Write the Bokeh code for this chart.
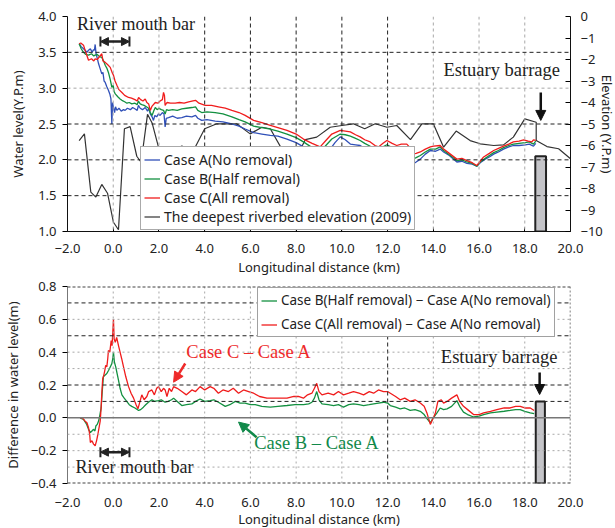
import math
from bokeh.plotting import figure
from bokeh.models import (Range1d, LinearAxis, FixedTicker, CustomJSTickFormatter, Span, Legend,
                          LegendItem, Label, Arrow, NormalHead, TeeHead)
from bokeh.layouts import column
from bokeh.embed import file_html
from bokeh.resources import INLINE

# ---------------- data ----------------
x_ticks = [-2, 0, 2, 4, 6, 8, 10, 12, 14, 16, 18, 20]
wl_ticks = [1.0, 1.5, 2.0, 2.5, 3.0, 3.5, 4.0]
elev_ticks = [0, -1, -2, -3, -4, -5, -6, -7, -8, -9, -10]
diff_ticks = [-0.4, -0.2, 0.0, 0.2, 0.4, 0.6, 0.8]

caseA_x = [-1.49, -1.40, -1.30, -1.23, -1.15, -1.08, -1.00, -0.92, -0.86, -0.82, -0.79, -0.75, -0.70, -0.64,
           -0.58, -0.50, -0.45, -0.40, -0.35, -0.28, -0.21, -0.15, -0.10, -0.06, -0.03, 0.01, 0.06, 0.10, 0.16,
           0.25, 0.35, 0.45, 0.52, 0.62, 0.75, 0.85, 0.96, 1.05, 1.10, 1.18, 1.28, 1.40, 1.50, 1.56, 1.62, 1.70,
           1.76, 1.82, 1.90, 1.98, 2.05, 2.15, 2.22, 2.27, 2.32, 2.42, 2.60, 2.80, 3.00, 3.20, 3.44, 3.60, 3.70,
           3.87, 4.10, 4.46, 4.80, 5.19, 5.50, 5.77, 6.14, 6.50, 6.87, 7.20, 7.60, 8.00, 8.32, 8.60, 8.90, 9.05,
           9.30, 9.49, 9.70, 9.93, 10.15, 10.37, 10.60, 10.80, 11.00, 11.24, 11.45, 11.60, 11.80, 11.97, 12.20,
           12.40, 12.60, 12.84, 12.95, 13.10, 13.25, 13.43, 13.65, 13.87, 14.10, 14.30, 14.45, 14.70, 15.03,
           15.25, 15.47, 15.70, 15.90, 16.05, 16.27, 16.45, 16.64, 16.85, 17.07, 17.30, 17.50, 17.75, 18.02,
           18.20, 18.38, 18.48]
caseA_y = [3.62, 3.58, 3.55, 3.53, 3.50, 3.53, 3.55, 3.50, 3.54, 3.53, 3.61, 3.48, 3.42, 3.34,
           3.28, 3.20, 3.22, 3.10, 3.08, 3.02, 2.97, 2.92, 2.85, 2.50, 2.80, 2.73, 2.66, 2.74, 2.69,
           2.72, 2.68, 2.70, 2.69, 2.72, 2.70, 2.73, 2.71, 2.69, 2.76, 2.72, 2.70, 2.73, 2.68, 2.72, 2.64, 2.60,
           2.55, 2.62, 2.60, 2.64, 2.62, 2.66, 2.64, 2.46, 2.58, 2.59, 2.61, 2.58, 2.59, 2.61, 2.60, 2.62, 2.58,
           2.55, 2.56, 2.54, 2.53, 2.50, 2.47, 2.43, 2.38, 2.36, 2.34, 2.33, 2.29, 2.24, 2.18, 2.08, 1.99, 2.01,
           2.08, 2.15, 2.24, 2.32, 2.28, 2.22, 2.21, 2.20, 2.16, 2.11, 2.08, 2.06, 2.10, 2.13, 2.10,
           2.08, 2.10, 2.13, 2.10, 1.94, 1.97, 2.01, 2.08, 2.13, 2.12, 2.15, 2.11, 2.06, 1.97,
           1.98, 1.95, 1.94, 1.91, 1.96, 2.01, 2.04, 2.08, 2.11, 2.15, 2.18, 2.20, 2.20, 2.21,
           2.22, 2.19, 2.23]

caseB_x = [-1.49, -1.40, -1.30, -1.20, -1.08, -0.95, -0.85, -0.79, -0.70, -0.60, -0.50, -0.42, -0.35, -0.28,
           -0.21, -0.13, -0.06, 0.00, 0.04, 0.09, 0.20, 0.30, 0.38, 0.50, 0.60, 0.70, 0.81, 0.95, 1.05, 1.10,
           1.18, 1.25, 1.35, 1.45, 1.55, 1.62, 1.70, 1.77, 1.84, 1.92, 2.00, 2.10, 2.20, 2.27, 2.33, 2.42, 2.60,
           2.80, 3.00, 3.20, 3.44, 3.60, 3.70, 3.87, 4.10, 4.46, 4.80, 5.19, 5.50, 5.77, 6.14, 6.50, 6.87, 7.20,
           7.60, 8.00, 8.32, 8.70, 9.05, 9.30, 9.56, 9.93, 10.15, 10.37, 10.60, 10.80, 11.00, 11.24, 11.45,
           11.60, 11.80, 11.97, 12.20, 12.40, 12.60, 12.84, 12.95, 13.10, 13.25, 13.43, 13.65, 13.87, 14.10,
           14.30, 14.45, 14.70, 15.03, 15.25, 15.47, 15.70, 15.90, 16.05, 16.27, 16.45, 16.64, 16.85, 17.07,
           17.30, 17.50, 17.75, 18.02, 18.20, 18.38, 18.48]
caseB_y = [3.62, 3.55, 3.50, 3.47, 3.46, 3.48, 3.45, 3.46, 3.47, 3.44, 3.43, 3.38, 3.32, 3.28,
           3.22, 3.12, 3.01, 3.04, 2.95, 2.92, 2.88, 2.85, 2.83, 2.81, 2.79, 2.80, 2.78, 2.79, 2.77, 2.82,
           2.78, 2.77, 2.76, 2.74, 2.72, 2.66, 2.62, 2.68, 2.73, 2.70, 2.72, 2.70, 2.69, 2.64, 2.70, 2.69, 2.70,
           2.69, 2.71, 2.72, 2.73, 2.74, 2.69, 2.66, 2.67, 2.66, 2.64, 2.60, 2.56, 2.53, 2.47, 2.45, 2.43, 2.40,
           2.36, 2.31, 2.25, 2.17, 2.11, 2.20, 2.29, 2.36, 2.35, 2.33, 2.30, 2.27, 2.23, 2.19, 2.15,
           2.13, 2.18, 2.21, 2.17, 2.15, 2.17, 2.18, 2.15, 2.01, 2.03, 2.06, 2.11, 2.15, 2.15,
           2.18, 2.13, 2.07, 1.99, 2.00, 1.97, 1.95, 1.91, 1.97, 2.02, 2.06, 2.10, 2.13, 2.17,
           2.20, 2.22, 2.23, 2.24, 2.25, 2.22, 2.26]

caseC_x = [-1.49, -1.42, -1.30, -1.20, -1.08, -0.95, -0.85, -0.79, -0.70, -0.60, -0.50, -0.45, -0.35, -0.25,
           -0.13, -0.05, 0.01, 0.08, 0.16, 0.25, 0.38, 0.50, 0.67, 0.80, 0.95, 1.05, 1.11, 1.20, 1.30, 1.40,
           1.47, 1.55, 1.62, 1.70, 1.84, 1.95, 2.05, 2.15, 2.20, 2.24, 2.27, 2.35, 2.50, 2.71, 2.90, 3.10, 3.30,
           3.44, 3.60, 3.75, 4.02, 4.30, 4.60, 4.90, 5.19, 5.50, 5.77, 6.14, 6.50, 6.87, 7.20, 7.60, 8.00, 8.32,
           8.70, 9.05, 9.30, 9.56, 9.93, 10.15, 10.37, 10.60, 10.80, 11.00, 11.24, 11.45, 11.60, 11.80, 11.97,
           12.20, 12.40, 12.60, 12.84, 12.95, 13.06, 13.25, 13.43, 13.65, 13.87, 14.01, 14.30, 14.45, 14.70,
           15.03, 15.25, 15.47, 15.70, 15.90, 16.05, 16.20, 16.45, 16.64, 16.85, 17.07, 17.30, 17.50, 17.75,
           17.95, 18.15, 18.31, 18.38, 18.48]
caseC_y = [3.62, 3.63, 3.60, 3.50, 3.39, 3.41, 3.38, 3.41, 3.40, 3.44, 3.48, 3.38, 3.36, 3.33,
           3.29, 3.22, 3.18, 3.10, 3.04, 2.98, 2.94, 2.90, 2.87, 2.86, 2.84, 2.82, 2.87, 2.84, 2.82, 2.85,
           2.80, 2.78, 2.69, 2.75, 2.80, 2.79, 2.82, 2.84, 2.94, 2.90, 2.76, 2.80, 2.79, 2.79, 2.80, 2.79, 2.81,
           2.82, 2.83, 2.79, 2.76, 2.76, 2.74, 2.72, 2.69, 2.66, 2.62, 2.55, 2.52, 2.48, 2.45, 2.41, 2.36, 2.29,
           2.23, 2.18, 2.27, 2.36, 2.41, 2.40, 2.39, 2.35, 2.32, 2.28, 2.25, 2.20, 2.18, 2.23, 2.27,
           2.23, 2.20, 2.22, 2.22, 2.18, 2.08, 2.09, 2.11, 2.15, 2.18, 2.19, 2.20, 2.15, 2.09,
           2.01, 2.02, 1.99, 1.96, 1.92, 1.98, 2.04, 2.09, 2.13, 2.16, 2.19, 2.22, 2.25, 2.26,
           2.28, 2.26, 2.25, 2.28, 2.27]

bed_x = [-1.49, -1.26, -0.98, -0.76, -0.50, -0.25, 0.01, 0.23, 0.49, 0.74, 1.03, 1.22, 1.50, 1.70, 1.98,
         2.49, 3.00, 3.51, 4.00, 4.53, 5.40, 5.99, 6.50, 6.87, 7.45, 8.00, 8.40, 8.90, 9.49, 10.00, 10.50,
         11.00, 11.46, 11.97, 12.40, 13.00, 13.50, 14.00, 14.45, 15.00, 15.61, 16.05, 16.64, 17.07, 17.50,
         18.00, 18.50, 18.50, 18.97, 19.48, 20.00]
bed_elev = [-5.77, -5.46, -8.17, -8.40, -7.81, -8.22, -9.57, -9.92, -5.22, -5.12, -6.50, -6.78, -4.55, -4.95,
            -6.08, -6.31, -6.03, -6.23, -5.22, -4.99, -4.99, -5.46, -5.15, -5.22, -6.31, -6.57, -5.73, -5.61,
            -5.15, -5.07, -4.99, -5.22, -4.99, -5.15, -5.07, -5.73, -4.99, -4.99, -6.08, -5.33, -5.77, -5.92,
            -6.00, -5.97, -5.61, -4.76, -4.92, -5.77, -6.05, -6.15, -6.62]

diffC_x = [-1.45, -1.35, -1.23, -1.15, -1.08, -1.03, -1.00, -0.93, -0.86, -0.79, -0.73, -0.67, -0.62, -0.57,
           -0.53, -0.50, -0.46, -0.43, -0.38, -0.33, -0.28, -0.24, -0.21, -0.15, -0.09, -0.05, -0.02, 0.01,
           0.04, 0.09, 0.15, 0.23, 0.30, 0.37, 0.45, 0.55, 0.67, 0.78, 0.89, 1.00, 1.08, 1.15, 1.25, 1.35,
           1.47, 1.55, 1.69, 1.80, 1.90, 1.98, 2.10, 2.20, 2.27, 2.35, 2.45, 2.55, 2.64, 2.80, 3.00, 3.20,
           3.44, 3.60, 3.80, 4.00, 4.24, 4.40, 4.60, 4.80, 5.04, 5.25, 5.48, 5.70, 5.92, 6.14, 6.40, 6.72,
           7.00, 7.30, 7.60, 7.90, 8.10, 8.32, 8.50, 8.69, 8.80, 8.90, 9.00, 9.13, 9.40, 9.64, 9.85, 10.07,
           10.30, 10.51, 10.75, 10.95, 11.20, 11.39, 11.60, 11.82, 12.00, 12.12, 12.35, 12.55, 12.75, 12.99,
           13.20, 13.43, 13.60, 13.72, 13.87, 14.00, 14.09, 14.20, 14.35, 14.45, 14.60, 14.80, 15.03, 15.15,
           15.32, 15.50, 15.76, 16.00, 16.20, 16.50, 16.78, 17.10, 17.36, 17.60, 17.80, 18.00, 18.24, 18.41]
diffC_y = [0.00, 0.00, -0.02, -0.03, -0.06, -0.10, -0.15, -0.14, -0.16, -0.17, -0.14, -0.10, -0.06, -0.02,
           0.06, 0.15, 0.24, 0.25, 0.28, 0.32, 0.31, 0.36, 0.41, 0.40, 0.47, 0.44, 0.52, 0.60,
           0.48, 0.46, 0.49, 0.44, 0.40, 0.36, 0.31, 0.25, 0.19, 0.15, 0.12, 0.08, 0.055, 0.09, 0.14, 0.11,
           0.13, 0.16, 0.17, 0.14, 0.18, 0.19, 0.16, 0.18, 0.17, 0.13, 0.18, 0.16, 0.19, 0.18, 0.16, 0.14,
           0.17, 0.16, 0.19, 0.17, 0.19, 0.18, 0.15, 0.17, 0.16, 0.18, 0.15, 0.17, 0.16, 0.15, 0.13, 0.12,
           0.12, 0.12, 0.12, 0.13, 0.13, 0.12, 0.14, 0.15, 0.18, 0.21, 0.16, 0.14, 0.15, 0.14, 0.16, 0.14,
           0.15, 0.16, 0.15, 0.14, 0.16, 0.15, 0.17, 0.16, 0.16, 0.15, 0.13, 0.11, 0.12, 0.10,
           0.11, 0.09, 0.07, 0.03, -0.04, 0.00, 0.03, 0.10, 0.11, 0.09, 0.10, 0.12, 0.14, 0.10,
           0.07, 0.05, 0.02, 0.02, 0.03, 0.04, 0.05, 0.06, 0.06, 0.07, 0.07, 0.06, 0.06, 0.045]

diffB_x = [-1.45, -1.30, -1.16, -1.08, -1.00, -0.93, -0.86, -0.80, -0.76, -0.70, -0.64, -0.58, -0.53, -0.48,
           -0.43, -0.36, -0.28, -0.20, -0.13, -0.06, -0.02, 0.01, 0.05, 0.11, 0.17, 0.23, 0.30, 0.38, 0.48,
           0.59, 0.70, 0.81, 0.95, 1.11, 1.20, 1.32, 1.42, 1.54, 1.69, 1.80, 1.98, 2.10, 2.27, 2.40, 2.55,
           2.64, 2.80, 3.00, 3.20, 3.44, 3.60, 3.80, 4.00, 4.24, 4.40, 4.60, 4.90, 5.10, 5.34, 5.55, 5.77,
           6.00, 6.21, 6.50, 6.87, 7.20, 7.60, 7.95, 8.32, 8.55, 8.69, 8.80, 8.90, 9.00, 9.13, 9.40, 9.64,
           9.85, 10.07, 10.30, 10.51, 10.75, 10.95, 11.20, 11.39, 11.60, 11.82, 12.00, 12.12, 12.35, 12.55,
           12.75, 12.99, 13.20, 13.43, 13.60, 13.72, 13.87, 14.00, 14.16, 14.30, 14.45, 14.60, 14.80, 15.03,
           15.15, 15.32, 15.50, 15.76, 16.00, 16.20, 16.50, 16.78, 17.10, 17.36, 17.60, 17.80, 18.00, 18.24,
           18.41]
diffB_y = [0.00, -0.01, -0.04, -0.07, -0.09, -0.08, -0.07, -0.08, -0.05, -0.04, -0.02, 0.02, 0.06, 0.16,
           0.25, 0.26, 0.27, 0.29, 0.31, 0.33, 0.36, 0.40, 0.34, 0.31, 0.27, 0.23, 0.18, 0.14, 0.12,
           0.10, 0.08, 0.07, 0.06, 0.045, 0.05, 0.065, 0.08, 0.095, 0.11, 0.10, 0.105, 0.11, 0.095, 0.10, 0.11,
           0.12, 0.10, 0.075, 0.08, 0.085, 0.10, 0.115, 0.10, 0.105, 0.11, 0.095, 0.07, 0.08, 0.10, 0.09, 0.09,
           0.08, 0.08, 0.07, 0.065, 0.07, 0.075, 0.08, 0.08, 0.085, 0.095, 0.12, 0.16, 0.11, 0.085, 0.08, 0.075,
           0.08, 0.065, 0.08, 0.085, 0.08, 0.075, 0.08, 0.085, 0.09, 0.095, 0.09, 0.075, 0.065, 0.055,
           0.06, 0.045, 0.05, 0.04, 0.02, -0.005, -0.03, 0.00, 0.03, 0.06, 0.05, 0.055, 0.07, 0.105,
           0.07, 0.035, 0.02, 0.005, 0.01, 0.02, 0.03, 0.035, 0.04, 0.045, 0.05, 0.05, 0.04, 0.03,
           0.025]

barrage_x_top = [18.46, 18.93]
barrage_x_bot = [18.48, 18.88]
barrage_top_wl = 2.05
barrage_top_diff = 0.1

BLUE = "#3050b8"
GREEN = "#139040"
RED = "#f01c1c"
BLACK = "#333333"
TXT = "#222222"
FONT = "Noto Sans"
SERIF = "Liberation Serif"
DARK = "#222222"
LIGHT = "#a8a8a8"

fmt1 = CustomJSTickFormatter(code="return (tick < -1e-9 ? '\u2212' : '') + Math.abs(tick).toFixed(1);")
fmt0 = CustomJSTickFormatter(code="return (tick < -1e-9 ? '\u2212' : '') + Math.abs(tick).toFixed(0);")


def style_axis(ax, fmt):
    ax.formatter = fmt
    ax.major_label_text_font = FONT
    ax.major_label_text_font_size = "13px"
    ax.major_label_text_color = TXT
    ax.axis_label_text_font = FONT
    ax.axis_label_text_font_size = "13px"
    ax.axis_label_text_font_style = "normal"
    ax.axis_label_text_color = TXT
    ax.minor_tick_line_color = None


# ---------------- top figure ----------------
p1 = figure(frame_width=503, frame_height=215, x_range=Range1d(-2, 20), y_range=Range1d(1, 4),
            output_backend="svg", toolbar_location=None,
            min_border_left=64, min_border_right=48, min_border_top=16, min_border_bottom=47)
p1.outline_line_color = None
p1.xgrid.visible = False
p1.ygrid.visible = False
p1.extra_y_ranges = {"elev": Range1d(-10, 0)}

for v in [4, 6, 8, 10, 12]:
    p1.add_layout(Span(location=v, dimension="height", line_color=DARK, line_dash="4 3", line_width=1))
for v in [0, 2, 14, 16, 18]:
    p1.add_layout(Span(location=v, dimension="height", line_color=LIGHT, line_dash="3 3", line_width=1))
for v in [3.5, 2.5, 2.0, 1.5]:
    p1.add_layout(Span(location=v, dimension="width", line_color=DARK, line_dash="4 3", line_width=1))
for v in [3.0]:
    p1.add_layout(Span(location=v, dimension="width", line_color=LIGHT, line_dash="3 3", line_width=1))

p1.quad(left=[barrage_x_top[0]], right=[barrage_x_top[1]], bottom=[1.0], top=[barrage_top_wl],
        fill_color="#c4c4c8", line_color="#222222", line_width=2)

rb = p1.line(bed_x, bed_elev, y_range_name="elev", line_color=BLACK, line_width=1.2)
ra = p1.line(caseA_x, caseA_y, line_color=BLUE, line_width=1.3)
rg = p1.line(caseB_x, caseB_y, line_color=GREEN, line_width=1.3)
rr = p1.line(caseC_x, caseC_y, line_color=RED, line_width=1.3)

xax = p1.xaxis[0]
xax.ticker = FixedTicker(ticks=x_ticks)
style_axis(xax, fmt1)
xax.axis_label = "Longitudinal distance (km)"
xax.major_tick_in = 4
xax.major_tick_out = 0
xax.major_label_standoff = 12
xax.axis_label_standoff = 2
xax.axis_line_color = "#111111"

yax = p1.yaxis[0]
yax.ticker = FixedTicker(ticks=wl_ticks)
style_axis(yax, fmt1)
yax.axis_label = "Water level(Y.P.m)"
yax.major_tick_in = 0
yax.major_tick_out = 5
yax.major_label_standoff = 6
yax.axis_label_standoff = 8
yax.axis_line_color = "#111111"

rax = LinearAxis(y_range_name="elev", ticker=FixedTicker(ticks=elev_ticks))
style_axis(rax, fmt0)
rax.major_tick_in = 5
rax.major_tick_out = 0
rax.major_label_standoff = 10
rax.axis_line_color = "#111111"
rax.axis_label = "Elevation (Y.P.m)"
rax.axis_label_standoff = -8
p1.add_layout(rax, "right")

leg1 = Legend(items=[LegendItem(label="Case A(No removal)", renderers=[ra]),
                     LegendItem(label="Case B(Half removal)", renderers=[rg]),
                     LegendItem(label="Case C(All removal)", renderers=[rr]),
                     LegendItem(label="The deepest riverbed elevation (2009)", renderers=[rb])],
              location=(73, 1), label_text_font=FONT, label_text_font_size="14px", label_text_color=TXT,
              label_text_line_height=1.0,
              glyph_width=16, glyph_height=15, label_height=15, spacing=0, padding=3, label_standoff=4,
              border_line_color="#555555", border_line_width=1.5, background_fill_alpha=1.0)
p1.add_layout(leg1)

p1.add_layout(Label(x=1.0, y=3.89, text="River mouth bar", text_font=SERIF, text_font_size="18px",
                    text_color="#222222", text_align="center", text_baseline="middle"))
p1.add_layout(Arrow(start=NormalHead(size=8, fill_color="#222222", line_color="#222222"),
                    end=NormalHead(size=8, fill_color="#222222", line_color="#222222"),
                    x_start=-0.56, y_start=3.65, x_end=0.71, y_end=3.65, line_width=2.5, line_color="#222222"))
p1.add_layout(Arrow(start=TeeHead(size=10, line_width=2, line_color="#222222"),
                    end=TeeHead(size=10, line_width=2, line_color="#222222"),
                    x_start=-0.56, y_start=3.65, x_end=0.71, y_end=3.65, line_width=0, line_alpha=0))
p1.add_layout(Label(x=16.99, y=3.25, text="Estuary barrage", text_font=SERIF, text_font_size="18.5px",
                    text_color="#222222", text_align="center", text_baseline="middle"))
p1.add_layout(Arrow(end=NormalHead(size=10, fill_color="#111111", line_color="#111111"),
                    x_start=18.7, y_start=2.94, x_end=18.7, y_end=2.55, line_width=2.5, line_color="#111111"))

# ---------------- bottom figure ----------------
p2 = figure(frame_width=503, frame_height=197, x_range=Range1d(-2, 20), y_range=Range1d(-0.4, 0.8),
            output_backend="svg", toolbar_location=None,
            min_border_left=64, min_border_right=48, min_border_top=8, min_border_bottom=45)
p2.outline_line_color = None
p2.xgrid.visible = False
p2.ygrid.visible = False

for v in [0, 2, 4, 6, 8, 10, 14, 16, 18]:
    p2.add_layout(Span(location=v, dimension="height", line_color=LIGHT, line_dash="2 3", line_width=1))
p2.add_layout(Span(location=12, dimension="height", line_color="#444444", line_dash="4 3", line_width=1.2))
for v in [0.7, 0.5, 0.2, 0.1]:
    p2.add_layout(Span(location=v, dimension="width", line_color=DARK, line_dash="4 3", line_width=1))
for v in [0.6, 0.4, 0.3, -0.1, -0.2, -0.3]:
    p2.add_layout(Span(location=v, dimension="width", line_color=LIGHT, line_dash="2 3", line_width=1))
p2.add_layout(Span(location=0.0, dimension="width", line_color="#777777", line_width=1.5))
for v in [0.8, -0.4]:
    p2.add_layout(Span(location=v, dimension="width", line_color="#444444", line_dash="3 2", line_width=2))
p2.add_layout(Span(location=20, dimension="height", line_color="#555555", line_dash="2 2", line_width=1.5))

p2.quad(left=[barrage_x_bot[0]], right=[barrage_x_bot[1]], bottom=[-0.4], top=[barrage_top_diff],
        fill_color="#c4c4c8", line_color="#222222", line_width=2)

rdB = p2.line(diffB_x, diffB_y, line_color=GREEN, line_width=1.3)
rdC = p2.line(diffC_x, diffC_y, line_color=RED, line_width=1.3)

xax2 = p2.xaxis[0]
xax2.ticker = FixedTicker(ticks=x_ticks)
style_axis(xax2, fmt1)
xax2.axis_label = "Longitudinal distance (km)"
xax2.major_tick_in = 0
xax2.major_tick_out = 0
xax2.major_label_standoff = 14
xax2.axis_label_standoff = 0
xax2.axis_line_color = None

yax2 = p2.yaxis[0]
yax2.ticker = FixedTicker(ticks=diff_ticks)
style_axis(yax2, fmt1)
yax2.axis_label = "Difference in water level(m)"
yax2.major_tick_in = 0
yax2.major_tick_out = 5
yax2.major_label_standoff = 6
yax2.axis_label_standoff = 6
yax2.axis_line_color = "#777777"

leg2 = Legend(items=[LegendItem(label="Case B(Half removal) \u2212 Case A(No removal)", renderers=[rdB]),
                     LegendItem(label="Case C(All removal) \u2212 Case A(No removal)", renderers=[rdC])],
              location=(190, 146), label_text_font=FONT, label_text_font_size="13.5px", label_text_color=TXT,
              label_text_line_height=1.0,
              glyph_width=16, glyph_height=17, label_height=17, spacing=6, padding=3, label_standoff=4,
              border_line_color="#444444", border_line_width=1.5, background_fill_alpha=1.0)
p2.add_layout(leg2)

p2.add_layout(Label(x=5.94, y=0.398, text="Case C \u2013 Case A", text_font=SERIF, text_font_size="18.5px",
                    text_color="#ee2a2a", text_align="center", text_baseline="middle"))
p2.add_layout(Arrow(end=NormalHead(size=10, fill_color="#ee2a2a", line_color="#ee2a2a"),
                    x_start=3.15, y_start=0.331, x_end=2.64, y_end=0.217, line_width=2.5, line_color="#ee2a2a"))
p2.add_layout(Label(x=8.91, y=-0.156, text="Case B \u2013 Case A", text_font=SERIF, text_font_size="18.5px",
                    text_color="#11894a", text_align="center", text_baseline="middle"))
p2.add_layout(Arrow(end=NormalHead(size=10, fill_color="#11894a", line_color="#11894a"),
                    x_start=6.27, y_start=-0.118, x_end=5.48, y_end=-0.026, line_width=2.5, line_color="#11894a"))
p2.add_layout(Label(x=0.93, y=-0.302, text="River mouth bar", text_font=SERIF, text_font_size="18px",
                    text_color="#222222", text_align="center", text_baseline="middle"))
p2.add_layout(Arrow(start=NormalHead(size=8, fill_color="#222222", line_color="#222222"),
                    end=NormalHead(size=8, fill_color="#222222", line_color="#222222"),
                    x_start=-0.56, y_start=-0.209, x_end=0.71, y_end=-0.209, line_width=2.5, line_color="#222222"))
p2.add_layout(Arrow(start=TeeHead(size=10, line_width=2, line_color="#222222"),
                    end=TeeHead(size=10, line_width=2, line_color="#222222"),
                    x_start=-0.56, y_start=-0.209, x_end=0.71, y_end=-0.209, line_width=0, line_alpha=0))
p2.add_layout(Label(x=16.88, y=0.368, text="Estuary barrage", text_font=SERIF, text_font_size="18.5px",
                    text_color="#222222", text_align="center", text_baseline="middle"))
p2.add_layout(Arrow(end=NormalHead(size=10, fill_color="#111111", line_color="#111111"),
                    x_start=18.65, y_start=0.276, x_end=18.65, y_end=0.142, line_width=2.5, line_color="#111111"))

layout = column(p1, p2, spacing=0)
open("out.html", "w").write(file_html(layout, INLINE))
